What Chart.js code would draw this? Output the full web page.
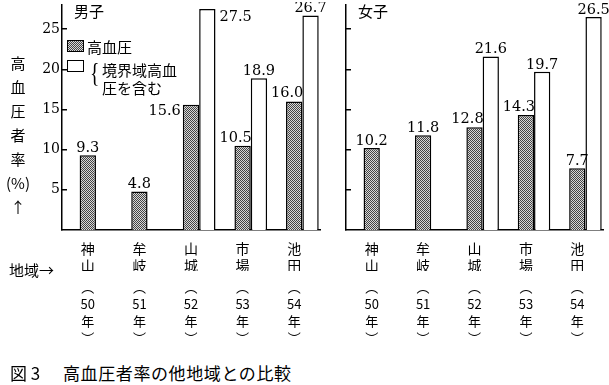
<!DOCTYPE html>
<html>
<head>
<meta charset="utf-8">
<script src="https://cdn.jsdelivr.net/npm/chart.js@4.4.0/dist/chart.umd.min.js"></script>
<style>
  body { margin: 0; background: #fff; }
  #wrap { position: relative; width: 609px; height: 385px; overflow: hidden;
          font-family: "Noto Sans CJK JP", sans-serif; color: #000; }
  canvas { position: absolute; top: 2px; }
  .t { position: absolute; white-space: nowrap; line-height: 1; font-size: 15px; }
  .box { position: absolute; box-sizing: border-box; border: 1.5px solid #000; background: #fff; }
</style>
</head>
<body>
<div id="wrap">
  <canvas id="male" width="330" height="343" style="left:0"></canvas>
  <canvas id="female" width="279" height="343" style="left:330px"></canvas>

  <div class="t" style="left:74px;top:3px">男子</div>
  <div class="t" style="left:358px;top:3px">女子</div>

  <!-- legend -->
  <div class="box" id="swHigh" style="left:67px;top:40px;width:17px;height:12px"></div>
  <div class="t" style="left:87px;top:39px">高血圧</div>
  <div class="box" style="left:67px;top:60px;width:17px;height:12px"></div>
  <div class="t" style="left:88px;top:57px;font:28px 'Liberation Serif';transform:scaleX(0.7)">{</div>
  <div class="t" style="left:102px;top:62px">境界域高血</div>
  <div class="t" style="left:102px;top:80px">圧を含む</div>

  <!-- y axis title, stacked vertically -->
  <div class="t" style="left:0;top:51px;width:36px;text-align:center;line-height:24px">高<br>血<br>圧<br>者<br>率<br>(%)<br>↑</div>

  <div class="t" style="left:9px;top:262px">地域→</div>

  <div class="t" style="left:10px;top:364px;font-size:17px">図 3</div>
  <div class="t" style="left:63px;top:364px;font-size:17px;letter-spacing:0.6px">高血圧者率の他地域との比較</div>
</div>

<script>
// data
const regions = ['神山', '牟岐', '山城', '市場', '池田'];
const years = ['50', '51', '52', '53', '54'];
const yTicks = [5, 10, 15, 20, 25];

const maleHigh = [9.3, 4.8, 15.6, 10.5, 16.0];
const maleBorder = [null, null, 27.5, 18.9, 26.7];
const femaleHigh = [10.2, 11.8, 12.8, 14.3, 7.7];
const femaleBorder = [null, null, 21.6, 19.7, 26.5];

// where each value label sits relative to its bar
const maleHighPos = ['top', 'top', 'left', 'topLeft', 'topLeft'];
const maleBorderPos = [null, null, 'right', 'top', 'top'];
const femaleHighPos = ['top', 'top', 'topLeft', 'topLeft', 'top'];
const femaleBorderPos = [null, null, 'top', 'top', 'top'];

// dotted grey fill for the "高血圧" bars
function makeHatch() {
  const c = document.createElement('canvas');
  c.width = 2; c.height = 2;
  const g = c.getContext('2d');
  g.fillStyle = '#d8d8d8'; g.fillRect(0, 0, 2, 2);
  g.fillStyle = '#444'; g.fillRect(0, 0, 1, 1); g.fillRect(1, 1, 1, 1);
  return c;
}
const hatchCanvas = makeHatch();
document.getElementById('swHigh').style.background = 'url(' + hatchCanvas.toDataURL() + ')';

const valueLabels = {
  id: 'valueLabels',
  afterDatasetsDraw(chart) {
    const ctx = chart.ctx;
    ctx.save();
    ctx.font = '14.5px "DejaVu Serif"';
    ctx.fillStyle = '#000';
    ctx.textBaseline = 'alphabetic';
    chart.data.datasets.forEach((ds, di) => {
      if (!ds.pos) return;
      chart.getDatasetMeta(di).data.forEach((bar, i) => {
        const v = ds.data[i];
        if (v == null) return;
        const p = bar.getProps(['x', 'y', 'width'], true);
        const txt = v.toFixed(1);
        const where = ds.pos[i];
        if (where === 'left') {
          ctx.textAlign = 'right';
          ctx.fillText(txt, p.x - p.width / 2 - 2, p.y + 10);
        } else if (where === 'right') {
          ctx.textAlign = 'left';
          ctx.fillText(txt, p.x + p.width / 2 + 4, p.y + 12);
        } else if (where === 'topLeft') {
          ctx.textAlign = 'center';
          ctx.fillText(txt, p.x - 7, p.y - 4);
        } else {
          ctx.textAlign = 'center';
          ctx.fillText(txt, p.x, p.y - 3);
        }
      });
    });
    ctx.restore();
  }
};

Chart.defaults.font.family = '"Noto Sans CJK JP"';
Chart.defaults.color = '#000';

function makeChart(id, high, border, highPos, borderPos, showLabels, yWidth, padRight) {
  const hatch = document.getElementById(id).getContext('2d').createPattern(hatchCanvas, 'repeat');
  return new Chart(document.getElementById(id), {
    type: 'bar',
    data: {
      labels: regions.map(r => r.split('')),
      datasets: [
        { label: '', data: regions.map(() => null) },
        { label: '高血圧', data: high, pos: highPos, backgroundColor: hatch,
          borderColor: '#000', borderWidth: 1.5 },
        { label: '境界域高血圧を含む', data: border, pos: borderPos, backgroundColor: '#fff',
          borderColor: '#000', borderWidth: 1.5 }
      ]
    },
    options: {
      responsive: false,
      animation: false,
      events: [],
      layout: { padding: { left: 0, right: padRight, top: 3, bottom: 0 } },
      datasets: { bar: { categoryPercentage: 0.95, barPercentage: 1 } },
      plugins: { legend: { display: false }, tooltip: { enabled: false } },
      scales: {
        x: {
          weight: 0,
          grid: { display: false },
          border: { display: true, color: '#000', width: 1.5 },
          ticks: { padding: 2, font: { size: 14, lineHeight: 1.2 }, maxRotation: 0, autoSkip: false },
          afterFit: s => { s.height = 41; s.paddingLeft = 0; s.paddingRight = 0; }
        },
        x2: {
          type: 'category',
          position: 'bottom',
          weight: 1,
          labels: years.map(y => ['︵', y, '年', '︶']),
          grid: { display: false },
          border: { display: false },
          ticks: { padding: 0, font: { size: 13, lineHeight: 1.3 }, maxRotation: 0, autoSkip: false },
          afterFit: s => { s.height = 74; s.paddingLeft = 0; s.paddingRight = 0; }
        },
        y: {
          min: 0,
          max: 28,
          afterBuildTicks: s => { s.ticks = yTicks.map(v => ({ value: v })); },
          grid: { drawOnChartArea: false, drawTicks: true, tickLength: -5, color: '#000', lineWidth: 1.5 },
          border: { display: true, color: '#000', width: 1.5 },
          ticks: { display: showLabels, padding: 7, font: { family: '"DejaVu Serif"', size: 14 } },
          afterFit: s => { s.width = yWidth; s.paddingTop = 0; s.paddingBottom = 0; }
        }
      }
    },
    plugins: [valueLabels]
  });
}

makeChart('male', maleHigh, maleBorder, maleHighPos, maleBorderPos, true, 62, 10);
makeChart('female', femaleHigh, femaleBorder, femaleHighPos, femaleBorderPos, false, 16, 6);
</script>
</body>
</html>
